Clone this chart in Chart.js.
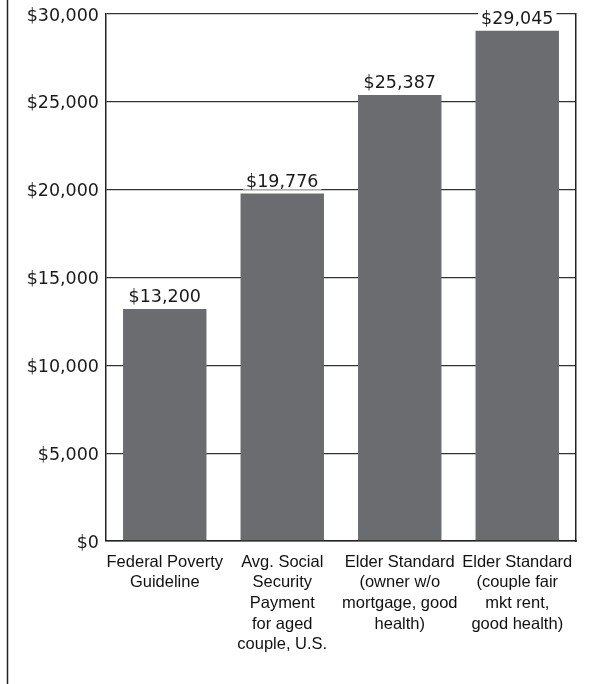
<!DOCTYPE html>
<html>
<head>
<meta charset="utf-8">
<script src="https://cdn.jsdelivr.net/npm/chart.js@4.4.1/dist/chart.umd.min.js"></script>
<style>
  html, body { margin: 0; padding: 0; background: #fff; }
  #wrap { position: relative; width: 609px; height: 684px; }
</style>
</head>
<body>
<div id="wrap"><canvas id="c" width="609" height="684"></canvas></div>
<script>
const categories = [
  ["Federal Poverty", "Guideline"],
  ["Avg. Social", "Security", "Payment", "for aged", "couple, U.S."],
  ["Elder Standard", "(owner w/o", "mortgage, good", "health)"],
  ["Elder Standard", "(couple fair", "mkt rent,", "good health)"]
];
const values = [13200, 19776, 25387, 29045];
const yTicks = [0, 5000, 10000, 15000, 20000, 25000, 30000];

const money = v => "$" + v.toLocaleString("en-US");

const valueLabels = {
  id: "valueLabels",
  afterDatasetsDraw(chart) {
    const ctx = chart.ctx;
    const meta = chart.getDatasetMeta(0);
    ctx.save();
    ctx.font = "17.5px 'DejaVu Sans'";
    ctx.textAlign = "center";
    ctx.textBaseline = "alphabetic";
    meta.data.forEach((bar, i) => {
      const txt = money(values[i]);
      const w = ctx.measureText(txt).width;
      const baseY = bar.y - 7;
      ctx.fillStyle = "#fff";
      ctx.fillRect(bar.x - w / 2 - 3, baseY - 15, w + 6, 18);
      ctx.fillStyle = "#1a1a1a";
      ctx.fillText(txt, bar.x, baseY);
    });
    ctx.restore();
  }
};

const frame = {
  id: "frame",
  afterDraw(chart) {
    const ctx = chart.ctx;
    ctx.save();
    ctx.strokeStyle = "#222";
    ctx.lineWidth = 1.5;
    ctx.beginPath();
    ctx.moveTo(7.5, 0);
    ctx.lineTo(7.5, chart.height);
    ctx.stroke();
    ctx.restore();
  }
};

new Chart(document.getElementById("c"), {
  type: "bar",
  data: {
    labels: categories,
    datasets: [{
      data: values,
      backgroundColor: "#6b6c70",
      borderWidth: 0,
      categoryPercentage: 0.71,
      barPercentage: 1.0
    }]
  },
  options: {
    responsive: false,
    animation: false,
    devicePixelRatio: 1,
    layout: { padding: { left: 0, right: 0, top: 14, bottom: 0 } },
    plugins: { legend: { display: false }, tooltip: { enabled: false } },
    scales: {
      x: {
        grid: { display: false },
        border: { display: true, color: "#222", width: 1.5 },
        ticks: {
          color: "#111",
          font: { family: "'Liberation Sans'", size: 16.5, lineHeight: 1.25 },
          padding: 3,
          maxRotation: 0,
          autoSkip: false
        },
        afterFit(scale) { scale.height = 143; }
      },
      y: {
        min: 0, max: 30000,
        afterBuildTicks(scale) { scale.ticks = yTicks.map(v => ({ value: v })); },
        grid: { color: "#333", lineWidth: 1.3, drawTicks: false },
        border: { display: true, color: "#222", width: 1.5 },
        ticks: {
          color: "#1a1a1a",
          font: { family: "'DejaVu Sans'", size: 17.5, lineHeight: 1 },
          padding: 7,
          labelOffset: 2,
          callback: v => money(v)
        },
        afterFit(scale) { scale.width = 106; scale.paddingTop = 0; scale.paddingBottom = 0; }
      },
      y2: {
        position: "right",
        min: 0, max: 30000,
        grid: { display: false, drawTicks: false },
        border: { display: true, color: "#222", width: 1.5 },
        ticks: { display: false },
        afterFit(scale) { scale.width = 33; scale.paddingTop = 0; scale.paddingBottom = 0; }
      }
    }
  },
  plugins: [valueLabels, frame]
});
</script>
</body>
</html>
